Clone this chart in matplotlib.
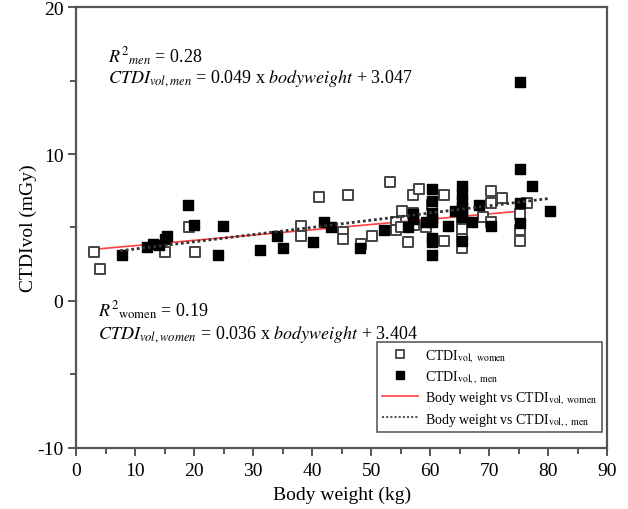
import matplotlib
matplotlib.use("Agg")
import matplotlib.pyplot as plt
from matplotlib.ticker import MultipleLocator
from matplotlib.lines import Line2D

plt.rcParams['font.family'] = ['Liberation Serif', 'DejaVu Serif']
plt.rcParams['mathtext.fontset'] = 'stix'
plt.rcParams['axes.unicode_minus'] = False

# Data: women (open squares)
women_w = [3, 4, 15, 19.2, 20.2, 38.1, 38.1, 41.2, 45.3, 45.3, 46.1, 50.2, 48.3,
           53.2, 55.3, 54.2, 54.2, 55.1, 56.3, 57.1, 58.1, 57.1, 57.3, 59.3, 60.3,
           62.4, 62.4, 65.4, 65.4, 65.4, 65.4, 70.3, 70.3, 72.2, 69.0, 70.3,
           75.3, 75.3, 75.3, 76.4]
women_c = [3.3, 2.2, 3.3, 5.0, 3.3, 5.1, 4.4, 7.1, 4.7, 4.2, 7.2, 4.4, 3.9,
           8.1, 6.1, 5.4, 4.8, 5.0, 4.0, 7.2, 7.6, 6.0, 5.2, 5.0, 6.5,
           7.2, 4.1, 5.4, 4.9, 4.2, 3.6, 7.5, 6.7, 7.0, 5.7, 5.4,
           5.9, 4.8, 4.1, 6.7]

# Data: men (filled squares)
men_w = [7.8, 12.0, 13.1, 14.1, 15.1, 15.4, 19.0, 20.0, 24.1, 24.9, 31.2, 34.1,
         35.1, 40.2, 42.0, 43.2, 48.1, 52.2, 56.3, 57.1, 57.1, 59.3,
         60.3, 60.3, 60.3, 60.3, 60.3, 60.3, 60.3, 60.3,
         63.1, 64.2, 65.4, 65.4, 65.4, 65.4, 65.4, 65.4, 65.4,
         67.1, 68.3, 70.3, 75.3, 75.3, 75.3, 75.3, 77.3, 80.3]
men_c = [3.1, 3.7, 3.9, 3.8, 4.2, 4.4, 6.5, 5.2, 3.1, 5.1, 3.5, 4.4,
         3.6, 4.0, 5.4, 5.0, 3.6, 4.8, 5.0, 5.9, 5.6, 5.4,
         7.6, 6.8, 6.0, 5.6, 5.4, 4.3, 4.0, 3.1,
         5.1, 6.1, 7.8, 7.3, 6.8, 6.4, 6.0, 5.7, 4.1,
         5.4, 6.5, 5.1, 14.9, 9.0, 6.7, 5.3, 7.8, 6.1]

# Regression fits (from the equations printed on the chart)
women_slope, women_intercept = 0.036, 3.404
men_slope, men_intercept = 0.049, 3.047
women_fit_x = [3, 75]
men_fit_x = [7.5, 80]

fig = plt.figure(figsize=(6.28, 5.10), dpi=100)
ax = fig.add_axes([0.121, 0.12, 0.846, 0.864])

spine_col = '#555555'
ax.scatter(women_w, women_c, marker='s', s=42, facecolors='white',
           edgecolors='#444444', linewidths=1.4, zorder=3)
ax.scatter(men_w, men_c, marker='s', s=42, facecolors='black',
           edgecolors='black', linewidths=1.0, zorder=4)

ax.plot(women_fit_x, [women_slope * x + women_intercept for x in women_fit_x],
        color='#ff4040', lw=1.2, zorder=2)
ax.plot(men_fit_x, [men_slope * x + men_intercept for x in men_fit_x],
        color='#333333', lw=2.0, ls=(0, (1, 1)), zorder=5)

ax.set_xlim(0, 90)
ax.set_ylim(-10, 20)
ax.xaxis.set_major_locator(MultipleLocator(10))
ax.xaxis.set_minor_locator(MultipleLocator(5))
ax.yaxis.set_major_locator(MultipleLocator(10))
ax.yaxis.set_minor_locator(MultipleLocator(5))
for s in ax.spines.values():
    s.set_color(spine_col)
    s.set_linewidth(1.6)
ax.tick_params(which='both', direction='out', color=spine_col, width=1.4,
               labelsize=14, top=False, right=False)
ax.tick_params(which='major', length=6)
ax.tick_params(which='minor', length=4)
ax.tick_params(axis='x', pad=4)
ax.tick_params(axis='y', pad=3)

ax.set_xlabel('Body weight (kg)', fontsize=14, labelpad=5)
ax.set_ylabel('CTDIvol (mGy)', fontsize=14, labelpad=0)

ax.text(5.4, 16.3, r'$R^{2}{}_{men}$ = 0.28', fontsize=13, ha='left', va='baseline')
ax.text(5.4, 14.9, r'$CTDI_{vol,men}$ = 0.049 x $bodyweight$ + 3.047',
        fontsize=13, ha='left', va='baseline')
ax.text(3.7, -1.0, r'$R^{2}{}_{\mathrm{women}}$ = 0.19', fontsize=13, ha='left', va='baseline')
ax.text(3.7, -2.5, r'$CTDI_{vol,women}$ = 0.036 x $bodyweight$ + 3.404',
        fontsize=13, ha='left', va='baseline')

handles = [
    Line2D([], [], ls='none', marker='s', ms=6, mfc='white', mec='#444444', mew=1.3),
    Line2D([], [], ls='none', marker='s', ms=6, mfc='black', mec='black'),
    Line2D([], [], color='#ff4040', lw=1.2),
    Line2D([], [], color='#555555', lw=1.5, ls=(0, (1, 1))),
]
labels = [r'CTDI$_{\mathrm{vol,\ women}}$', r'CTDI$_{\mathrm{vol,,\ men}}$',
          r'Body weight vs CTDI$_{\mathrm{vol,\ women}}$',
          r'Body weight vs CTDI$_{\mathrm{vol,,\ men}}$']
leg = ax.legend(handles, labels, loc='lower right', bbox_to_anchor=(0.99, 0.035),
                fontsize=10, frameon=True, fancybox=False, handlelength=2.6,
                borderpad=0.35, labelspacing=0.33, handletextpad=0.5,
                borderaxespad=0.0)
leg.get_frame().set_edgecolor('#333333')
leg.get_frame().set_linewidth(1.2)

fig.savefig('out.png', dpi=100)
